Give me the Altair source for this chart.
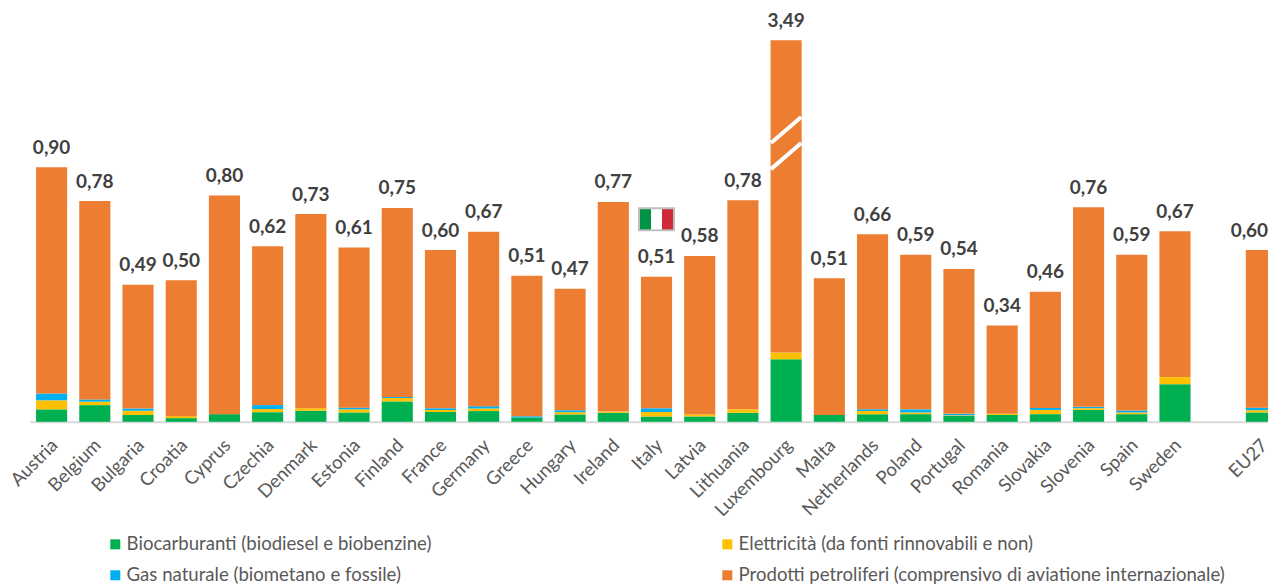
import altair as alt
import pandas as pd

countries = ["Austria","Belgium","Bulgaria","Croatia","Cyprus","Czechia","Denmark","Estonia","Finland","France",
             "Germany","Greece","Hungary","Ireland","Italy","Latvia","Lithuania","Luxembourg","Malta","Netherlands",
             "Poland","Portugal","Romania","Slovakia","Slovenia","Spain","Sweden"," ","EU27"]
labels = ["0,90","0,78","0,49","0,50","0,80","0,62","0,73","0,61","0,75","0,60","0,67","0,51","0,47","0,77","0,51",
          "0,58","0,78","3,49","0,51","0,66","0,59","0,54","0,34","0,46","0,76","0,59","0,67","",""]
eu_label = ["0,60"]
bio = [.044,.059,.024,.013,.027,.034,.039,.033,.072,.035,.038,.015,.026,.032,.019,.019,.032,.221,.024,.027,.027,.021,.024,.027,.042,.027,.133,0,.033]
ele = [.032,.012,.015,.007,0,.011,.009,.011,.012,.007,.009,0,.008,.004,.016,.007,.012,.024,0,.011,.006,.002,.004,.015,.006,.006,.025,0,.008]
gas = [.024,.008,.008,0,0,.014,0,.006,.004,.006,.008,.005,.007,0,.013,0,0,0,0,.006,.011,.005,0,.007,.005,.007,0,0,.009]
# Luxembourg is drawn on a broken axis: its petroleum bar is shorter than its real value
oil = [.800,.701,.437,.480,.773,.561,.686,.566,.668,.559,.617,.496,.429,.741,.465,.560,.739,1.103,.483,.619,.546,.512,.312,.411,.705,.550,.515,0,.557]
drawn_total = [.900,.780,.484,.500,.800,.620,.734,.616,.756,.607,.672,.516,.470,.777,.513,.586,.783,1.348,.507,.663,.590,.540,.340,.460,.758,.590,.673,0,.607]

series_names = ["Biocarburanti (biodiesel e biobenzine)","Elettricità (da fonti rinnovabili e non)",
                "Gas naturale (biometano e fossile)","Prodotti petroliferi (comprensivo di aviatione internazionale)"]
series_vals = [bio, ele, gas, oil]
series_colors = ["#00B050","#FFC000","#00B0F0","#ED7D31"]

FONT = "Lato"
rows = []
for o, (n, vals) in enumerate(zip(series_names, series_vals)):
    for c, v in zip(countries, vals):
        rows.append({"country": c, "series": n, "value": v, "o": o})
df = pd.DataFrame(rows)
tot = pd.DataFrame({"country": countries, "total": drawn_total, "label": labels})
eu = tot[tot.country == "EU27"].assign(label=eu_label)

W, H = 1238, 410.3
RANGE = [0, 1253]
xs = alt.Scale(domain=countries, paddingInner=0.28, paddingOuter=0.14, range=RANGE)
ys = alt.Scale(domain=[0, 1.45], nice=False, zero=True)

bars = alt.Chart(df).mark_bar().encode(
    x=alt.X("country:N", sort=countries, scale=xs, title=None,
            axis=alt.Axis(labelAngle=-45, labelAlign="right", labelBaseline="middle", labelFontSize=18.5,
                          labelColor="#595959", labelFont=FONT, ticks=False, domainColor="#D9D9D9", domainWidth=2,
                          labelPadding=20, labelOffset=3, grid=False, labelOverlap=False)),
    y=alt.Y("value:Q", stack="zero", scale=ys, axis=None),
    color=alt.Color("series:N", sort=series_names,
                    scale=alt.Scale(domain=series_names, range=series_colors),
                    legend=alt.Legend(title=None, orient="none", legendX=76, legendY=523.5, columns=2, direction="horizontal",
                                      symbolType="square", symbolSize=100, symbolStrokeWidth=0, labelOffset=2,
                                      labelFont=FONT, labelFontSize=18.6, labelColor="#595959",
                                      columnPadding=286, rowPadding=12, labelLimit=560, symbolOpacity=1)),
    order=alt.Order("o:Q"),
)

def value_text(data, dx=0):
    return alt.Chart(data).mark_text(font=FONT, fontWeight="bold", fontSize=19, color="#404040", dy=-19.5, dx=dx,
                                     baseline="middle").encode(
        x=alt.X("country:N", sort=countries, scale=xs),
        y=alt.Y("total:Q", scale=ys),
        text="label:N",
    )
text = value_text(tot) + value_text(eu, dx=-12)

# Italian flag above Italy, in data coordinates
flag_y0, flag_y1 = [0.673], [0.758]
flag_in0, flag_in1 = [0.680], [0.751]
flag_df = pd.DataFrame({"country": ["Italy"], "y0": flag_y0, "y1": flag_y1, "i0": flag_in0, "i1": flag_in1})
def stripe(off, w, col, a="i0", b="i1"):
    return alt.Chart(flag_df).mark_bar(xOffset=off, width=w, color=col).encode(
        x=alt.X("country:N", sort=countries, scale=xs),
        y=alt.Y(f"{a}:Q", scale=ys),
        y2=f"{b}:Q",
    )
flag = stripe(0, 37, "#BFBFBF", "y0", "y1") + stripe(-11, 11, "#009246") + stripe(0, 11, "#FFFFFF") + stripe(11, 11, "#CE2B37")

# Axis-break slashes on Luxembourg, on a hidden position-index scale
brk = pd.DataFrame({"x0": [17.15, 17.15], "x1": [17.85, 17.85], "y0": [0.985, 0.893], "y1": [1.077, 0.985]})
breaks = alt.Chart(brk).mark_rule(color="white", strokeWidth=4).encode(
    x=alt.X("x0:Q", scale=alt.Scale(domain=[0, 29], nice=False, zero=False, range=RANGE), axis=None),
    x2="x1:Q",
    y=alt.Y("y0:Q", scale=ys),
    y2="y1:Q",
)

main = alt.layer(bars, text, flag)
chart = alt.layer(main, breaks).resolve_scale(x="independent").properties(
    width=W, height=H,
    padding={"left": 22, "top": 3.5, "right": 0, "bottom": 163},
    autosize=alt.AutoSizeParams(type="none"),
).configure_view(stroke=None)

chart.save("out.html", embed_options={"renderer": "svg", "actions": False})
